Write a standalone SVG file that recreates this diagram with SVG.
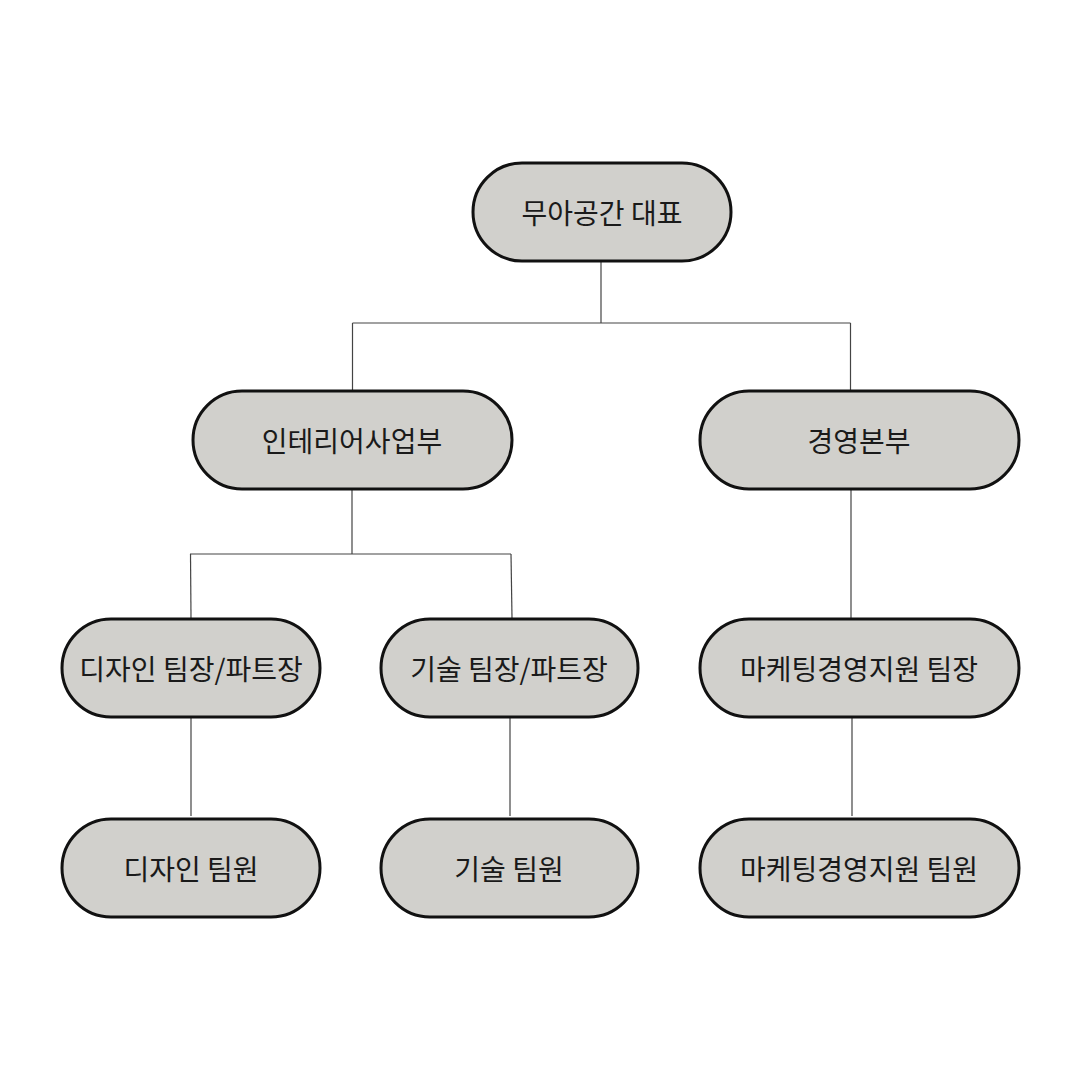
<svg xmlns="http://www.w3.org/2000/svg" width="1080" height="1080" viewBox="0 0 1080 1080">
<style>
.n rect{fill:#d1d0cc;stroke:#111;stroke-width:3}
.n text{font-family:"Noto Sans CJK KR","Noto Sans",sans-serif;font-size:28px;fill:#1a1a1a;text-anchor:middle;dominant-baseline:central}
#edges line{stroke:#444;stroke-width:1.2}
</style>
<rect width="1080" height="1080" fill="#fff"/>
<g id="edges">
<line x1="601" y1="261" x2="601" y2="323"/>
<line x1="352.5" y1="323" x2="850.5" y2="323"/>
<line x1="352.5" y1="323" x2="352.5" y2="390"/>
<line x1="850.5" y1="323" x2="850.5" y2="390"/>
<line x1="352" y1="489" x2="352" y2="554"/>
<line x1="190" y1="554" x2="511" y2="554"/>
<line x1="190.5" y1="554" x2="191" y2="618"/>
<line x1="511" y1="554" x2="512" y2="618"/>
<line x1="851" y1="489" x2="851" y2="618"/>
<line x1="191" y1="717" x2="191" y2="816"/>
<line x1="510" y1="717" x2="510" y2="816"/>
<line x1="852" y1="717" x2="852" y2="816"/>
</g>
<g id="ceo" class="n"><rect x="473" y="163" width="258" height="98" rx="49"/><text x="602" y="212">무아공간 대표</text></g>
<g id="interior" class="n"><rect x="193" y="391" width="319" height="98" rx="49"/><text x="352" y="440">인테리어사업부</text></g>
<g id="mgmt" class="n"><rect x="700" y="391" width="319" height="98" rx="49"/><text x="859" y="440">경영본부</text></g>
<g id="design-lead" class="n"><rect x="62" y="619" width="258" height="98" rx="49"/><text x="191" y="668">디자인 팀장/파트장</text></g>
<g id="tech-lead" class="n"><rect x="381" y="619" width="257" height="98" rx="49"/><text x="509" y="668">기술 팀장/파트장</text></g>
<g id="mkt-lead" class="n"><rect x="700" y="619" width="319" height="98" rx="49"/><text x="859" y="668">마케팅경영지원 팀장</text></g>
<g id="design-staff" class="n"><rect x="62" y="819" width="258" height="98" rx="49"/><text x="191" y="868">디자인 팀원</text></g>
<g id="tech-staff" class="n"><rect x="381" y="819" width="257" height="98" rx="49"/><text x="509" y="868">기술 팀원</text></g>
<g id="mkt-staff" class="n"><rect x="700" y="819" width="319" height="98" rx="49"/><text x="859" y="868">마케팅경영지원 팀원</text></g>
</svg>
